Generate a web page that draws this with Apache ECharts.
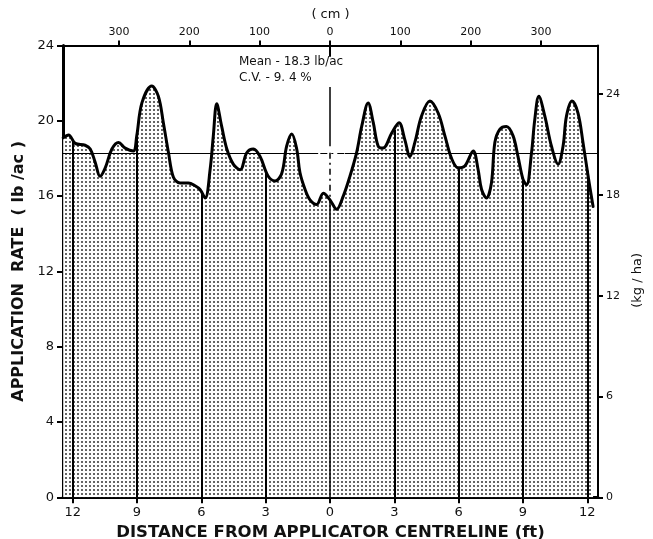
<!DOCTYPE html>
<html>
<head>
<meta charset="utf-8">
<script src="https://cdn.jsdelivr.net/npm/echarts@6/dist/echarts.min.js"></script>
<style>
  html, body { margin: 0; padding: 0; background: #fff; }
  #chart { width: 653px; height: 539px; }
</style>
</head>
<body>
<div id="chart"></div>
<script>
// Lateral distribution of applied material across the swath.
// Distance from applicator centreline (ft), negative = left side.
const distanceFt = [
  -12.44, -12.19, -11.88, -11.42, -11.18, -10.95, -10.72, -10.48, -10.17, -9.86,
  -9.55, -9.17, -9.01, -8.77, -8.31, -8.00, -7.77, -7.53, -7.30, -6.99,
  -6.60, -6.29, -6.06, -5.82, -5.59, -5.44, -5.28, -5.05, -4.81, -4.51,
  -4.19, -3.88, -3.57, -3.26, -2.88, -2.56, -2.25, -2.02, -1.78, -1.55,
  -1.40, -1.16, -0.93, -0.62, -0.31, 0.00, 0.31, 0.62, 0.93, 1.24,
  1.48, 1.78, 2.02, 2.25, 2.48, 2.88, 3.22, 3.49, 3.73, 3.96,
  4.27, 4.66, 5.05, 5.36, 5.67, 5.98, 6.29, 6.68, 6.91, 7.07,
  7.30, 7.53, 7.69, 7.92, 8.23, 8.54, 8.77, 9.00, 9.17, 9.40,
  9.55, 9.74, 10.02, 10.33, 10.64, 10.87, 11.03, 11.29, 11.57, 11.80,
  12.04, 12.27
];
// Application rate (lb/ac) at each distance.
const rateLbAc = [
  19.10, 19.25, 18.80, 18.70, 18.50, 17.80, 17.05, 17.50, 18.50, 18.85,
  18.55, 18.40, 19.20, 20.95, 21.85, 21.30, 19.90, 18.30, 17.00, 16.70,
  16.70, 16.55, 16.35, 15.90, 17.40, 19.20, 20.90, 19.70, 18.50, 17.70,
  17.40, 18.30, 18.50, 18.10, 17.05, 16.80, 17.20, 18.65, 19.30, 18.50,
  17.25, 16.35, 15.80, 15.55, 16.15, 15.80, 15.30, 16.00, 17.05, 18.30,
  19.70, 20.95, 19.90, 18.65, 18.55, 19.35, 19.90, 19.00, 18.10, 18.85,
  20.25, 21.05, 20.40, 19.20, 18.00, 17.50, 17.60, 18.40, 17.40, 16.35,
  15.90, 16.70, 18.85, 19.55, 19.70, 19.20, 18.10, 16.90, 16.60, 18.30,
  20.05, 21.30, 20.25, 18.65, 17.70, 18.65, 20.25, 21.05, 20.40, 18.85,
  17.05, 15.45
];

const meanRate = 18.3;          // lb/ac
const cvPercent = 9.4;          // %
const ftTicks = [-12, -9, -6, -3, 0, 3, 6, 9, 12];
const cmTicks = [-300, -200, -100, 0, 100, 200, 300];
const kgTicks = [0, 6, 12, 18, 24];
const guideFt = [-12, -9, -6, -3, 3, 6, 9, 12];

const FT_MIN = -12.45, FT_MAX = 12.5;
const CM_PER_FT = 30.48;
const KGHA_PER_LBAC = 1.12085;
const LB_MAX = 24;

const points = distanceFt.map((d, i) => [d, rateLbAc[i]]);

// Linear lookup of the profile height at a given distance
function rateAt(x) {
  for (let i = 0; i < distanceFt.length - 1; i++) {
    const a = distanceFt[i], b = distanceFt[i + 1];
    if (x >= a && x <= b) {
      const t = (x - a) / (b - a);
      return rateLbAc[i] + t * (rateLbAc[i + 1] - rateLbAc[i]);
    }
  }
  return x < distanceFt[0] ? rateLbAc[0] : rateLbAc[rateLbAc.length - 1];
}

// Stipple fill
function stipple() {
  const c = document.createElement('canvas');
  c.width = 4; c.height = 4;
  const g = c.getContext('2d');
  g.fillStyle = '#ffffff';
  g.fillRect(0, 0, 4, 4);
  g.fillStyle = '#666666';
  g.fillRect(1, 1, 2, 2);
  return c;
}

const FONT = '"DejaVu Sans", "Liberation Sans", Arial, sans-serif';
const tickFont = { color: '#111', fontFamily: FONT, fontSize: 13 };
const smallFont = { color: '#111', fontFamily: FONT, fontSize: 11 };

const guideSegments = guideFt.map(x => [
  { coord: [x, 0] }, { coord: [x, rateAt(x)] }
]);
const centreCurve = rateAt(0);

const chart = echarts.init(document.getElementById('chart'), null, { renderer: 'canvas' });

chart.setOption({
  animation: false,
  backgroundColor: '#ffffff',
  grid: { left: 63, right: 55, top: 45.5, bottom: 41.7, containLabel: false, outerBoundsMode: 'none' },
  xAxis: [
    {
      type: 'value', position: 'bottom', min: FT_MIN, max: FT_MAX,
      name: 'DISTANCE FROM APPLICATOR CENTRELINE (ft)',
      nameLocation: 'middle', nameGap: 16,
      nameTextStyle: { color: '#111', fontFamily: FONT, fontSize: 16.5, fontWeight: 'bold' },
      axisLine: { show: true, onZero: false, lineStyle: { color: '#000', width: 3 } },
      axisTick: { show: true, length: 6, customValues: ftTicks, lineStyle: { color: '#000', width: 2 } },
      axisLabel: { customValues: ftTicks, margin: 9, formatter: v => String(Math.abs(v)), ...tickFont },
      splitLine: { show: false }
    },
    {
      type: 'value', position: 'top', min: FT_MIN * CM_PER_FT, max: FT_MAX * CM_PER_FT,
      name: '( cm )',
      nameLocation: 'middle', nameGap: 24,
      nameTextStyle: { color: '#111', fontFamily: FONT, fontSize: 13 },
      axisLine: { show: true, onZero: false, lineStyle: { color: '#000', width: 2 } },
      axisTick: { show: true, length: 5, customValues: cmTicks, lineStyle: { color: '#000', width: 2 } },
      axisLabel: { customValues: cmTicks, margin: 8, formatter: v => String(Math.abs(v)), ...smallFont },
      splitLine: { show: false }
    }
  ],
  yAxis: [
    {
      type: 'value', position: 'left', min: 0, max: LB_MAX, interval: 4,
      name: 'APPLICATION  RATE  ( lb /ac )',
      nameLocation: 'middle', nameGap: 29, nameRotate: 90,
      nameTextStyle: { color: '#111', fontFamily: FONT, fontSize: 16, fontWeight: 'bold' },
      axisLine: { show: true, onZero: false, lineStyle: { color: '#000', width: 3 } },
      axisTick: { show: true, length: 6, lineStyle: { color: '#000', width: 2 } },
      axisLabel: { margin: 9, ...tickFont },
      splitLine: { show: false }
    },
    {
      type: 'value', position: 'right', min: 0, max: LB_MAX * KGHA_PER_LBAC,
      name: '(kg / ha)',
      nameLocation: 'middle', nameGap: 30, nameRotate: 90,
      nameTextStyle: { color: '#111', fontFamily: FONT, fontSize: 13, padding: [0, 18, 0, 0] },
      axisLine: { show: true, onZero: false, lineStyle: { color: '#000', width: 2 } },
      axisTick: { show: true, length: 5, customValues: kgTicks, lineStyle: { color: '#000', width: 2 } },
      axisLabel: { customValues: kgTicks, margin: 8, ...smallFont },
      splitLine: { show: false }
    }
  ],
  series: [
    {
      // stippled area under the profile
      type: 'line', xAxisIndex: 0, yAxisIndex: 0, z: 1,
      data: points, smooth: 0.35, symbol: 'none',
      lineStyle: { width: 0, opacity: 0 },
      areaStyle: { color: { image: stipple(), repeat: 'repeat' }, opacity: 1 },
      silent: true
    },
    {
      // guide lines at every 3 ft, the mean line and the centreline
      type: 'line', xAxisIndex: 0, yAxisIndex: 0, z: 2,
      data: [], symbol: 'none', silent: true,
      markLine: {
        silent: true, symbol: ['none', 'none'], label: { show: false },
        animation: false,
        data: [
          ...guideSegments.map(s => [
            { ...s[0], lineStyle: { color: '#000', width: 2, type: 'solid' } }, s[1]
          ]),
          [{ coord: [FT_MIN, meanRate], lineStyle: { color: '#000', width: 1.2, type: 'solid' } }, { coord: [-0.55, meanRate] }],
          [{ coord: [-0.45, meanRate], lineStyle: { color: '#000', width: 1.2, type: [7, 4, 2, 4] } }, { coord: [0.7, meanRate] }],
          [{ coord: [0.7, meanRate], lineStyle: { color: '#000', width: 1.2, type: 'solid' } }, { coord: [FT_MAX, meanRate] }],
          [{ coord: [0, LB_MAX], lineStyle: { color: '#000', width: 2, type: 'solid' } }, { coord: [0, 23.4] }],
          [{ coord: [0, 21.8], lineStyle: { color: '#000', width: 1.5, type: 'solid' } }, { coord: [0, 18.65] }],
          [{ coord: [0, 18.3], lineStyle: { color: '#000', width: 1.5, type: [6, 4, 2, 4] } }, { coord: [0, centreCurve] }],
          [{ coord: [0, centreCurve], lineStyle: { color: '#000', width: 1.5, type: 'solid' } }, { coord: [0, 0] }]
        ]
      }
    },
    {
      // profile outline
      type: 'line', xAxisIndex: 0, yAxisIndex: 0, z: 3,
      data: points, smooth: 0.35, symbol: 'none', silent: true,
      lineStyle: { color: '#000', width: 3, join: 'round', cap: 'round' }
    }
  ],
  graphic: [
    {
      type: 'text', left: 239, top: 56, z: 10,
      style: { text: 'Mean - ' + meanRate.toFixed(1) + ' lb/ac', font: '12px ' + FONT, fill: '#111' }
    },
    {
      type: 'text', left: 239, top: 72, z: 10,
      style: { text: 'C.V. - ' + cvPercent.toFixed(1).replace('.', '. ') + ' %', font: '12px ' + FONT, fill: '#111' }
    }
  ]
});
</script>
</body>
</html>
